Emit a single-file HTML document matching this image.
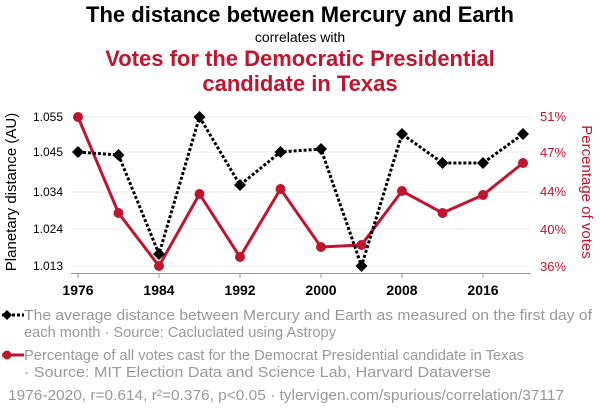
<!DOCTYPE html>
<html><head><style>
body{margin:0;width:600px;height:414px;background:#fff;font-family:"Liberation Sans",sans-serif;overflow:hidden}
.t{position:absolute;width:600px;text-align:center}
</style></head><body>
<div class="t" style="top:2px;font-size:22px;font-weight:bold;color:#000">The distance between Mercury and Earth</div>
<div class="t" style="top:29px;font-size:14px;color:#000">correlates with</div>
<div class="t" style="top:46px;font-size:22px;font-weight:bold;color:#c0152f;line-height:25px">Votes for the Democratic Presidential<br>candidate in Texas</div>
<svg width="600" height="414" style="position:absolute;left:0;top:0" font-family="Liberation Sans, sans-serif">
<g stroke="#eee" stroke-width="1">
<line x1="71" x2="531" y1="117" y2="117"/><line x1="71" x2="531" y1="152" y2="152"/><line x1="71" x2="531" y1="192" y2="192"/><line x1="71" x2="531" y1="229" y2="229"/><line x1="71" x2="531" y1="266" y2="266"/>
</g>
<line x1="71" x2="531" y1="273.5" y2="273.5" stroke="#999"/>
<g stroke="#999"><line x1="78" x2="78" y1="274" y2="278"/><line x1="159" x2="159" y1="274" y2="278"/><line x1="240" x2="240" y1="274" y2="278"/><line x1="321" x2="321" y1="274" y2="278"/><line x1="402" x2="402" y1="274" y2="278"/><line x1="483" x2="483" y1="274" y2="278"/></g>
<g font-size="14" font-weight="bold" text-anchor="middle" fill="#000">
<text x="78" y="295">1976</text><text x="159" y="295">1984</text><text x="240" y="295">1992</text><text x="321" y="295">2000</text><text x="402" y="295">2008</text><text x="483" y="295">2016</text></g>
<g font-size="12" text-anchor="end" fill="#000">
<text x="63" y="121">1.055</text><text x="63" y="156">1.045</text><text x="63" y="196">1.034</text><text x="63" y="233">1.024</text><text x="63" y="270">1.013</text></g>
<g font-size="13" fill="#c0152f">
<text x="540" y="121">51%</text><text x="540" y="157">47%</text><text x="540" y="196">44%</text><text x="540" y="234">40%</text><text x="540" y="271">36%</text></g>
<text transform="translate(16,192) rotate(-90)" font-size="15" text-anchor="middle">Planetary distance (AU)</text>
<text transform="translate(582,192) rotate(90)" font-size="15" text-anchor="middle" fill="#c0152f">Percentage of votes</text>
<polyline fill="none" stroke="#c0152f" stroke-width="3" points="78,117 118.5,213 159,266 199.5,194 240,257 280.5,189 321,247 361.5,245 402,191 442.5,213 483,195 523,163"/>
<g fill="#c0152f"><circle cx="78" cy="117" r="5"/><circle cx="118.5" cy="213" r="5"/><circle cx="159" cy="266" r="5"/><circle cx="199.5" cy="194" r="5"/><circle cx="240" cy="257" r="5"/><circle cx="280.5" cy="189" r="5"/><circle cx="321" cy="247" r="5"/><circle cx="361.5" cy="245" r="5"/><circle cx="402" cy="191" r="5"/><circle cx="442.5" cy="213" r="5"/><circle cx="483" cy="195" r="5"/><circle cx="523" cy="163" r="5"/></g>
<polyline fill="none" stroke="#000" stroke-width="3" stroke-dasharray="3,2" points="78,152 118.5,155 159,254 199.5,117 240,185 280.5,152 321,149 361.5,266 402,134 442.5,163 483,163 523,134"/>
<g fill="#000">
<path d="M78 146l6 6-6 6-6-6z"/><path d="M118.5 149l6 6-6 6-6-6z"/><path d="M159 248l6 6-6 6-6-6z"/><path d="M199.5 111l6 6-6 6-6-6z"/><path d="M240 179l6 6-6 6-6-6z"/><path d="M280.5 146l6 6-6 6-6-6z"/><path d="M321 143l6 6-6 6-6-6z"/><path d="M361.5 260l6 6-6 6-6-6z"/><path d="M402 128l6 6-6 6-6-6z"/><path d="M442.5 157l6 6-6 6-6-6z"/><path d="M483 157l6 6-6 6-6-6z"/><path d="M523 128l6 6-6 6-6-6z"/></g>
<line x1="2" x2="24" y1="315" y2="315" stroke="#000" stroke-width="3" stroke-dasharray="3,2"/>
<path d="M7 310l5 5-5 5-5-5z"/>
<line x1="2" x2="24" y1="355" y2="355" stroke="#c0152f" stroke-width="3"/>
<circle cx="7" cy="355" r="4.5" fill="#c0152f"/>
<g font-size="14.5" fill="#999">
<text x="24" y="320" textLength="568" lengthAdjust="spacingAndGlyphs">The average distance between Mercury and Earth as measured on the first day of</text>
<text x="24" y="337" textLength="312" lengthAdjust="spacingAndGlyphs">each month · Source: Cacluclated using Astropy</text>
<text x="24" y="360" textLength="500" lengthAdjust="spacingAndGlyphs">Percentage of all votes cast for the Democrat Presidential candidate in Texas</text>
<text x="24" y="377" textLength="467" lengthAdjust="spacingAndGlyphs">· Source: MIT Election Data and Science Lab, Harvard Dataverse</text>
<text x="8" y="400" textLength="556" lengthAdjust="spacingAndGlyphs">1976-2020, r=0.614, r²=0.376, p&lt;0.05 · tylervigen.com/spurious/correlation/37117</text>
</g>
</svg>
</body></html>
